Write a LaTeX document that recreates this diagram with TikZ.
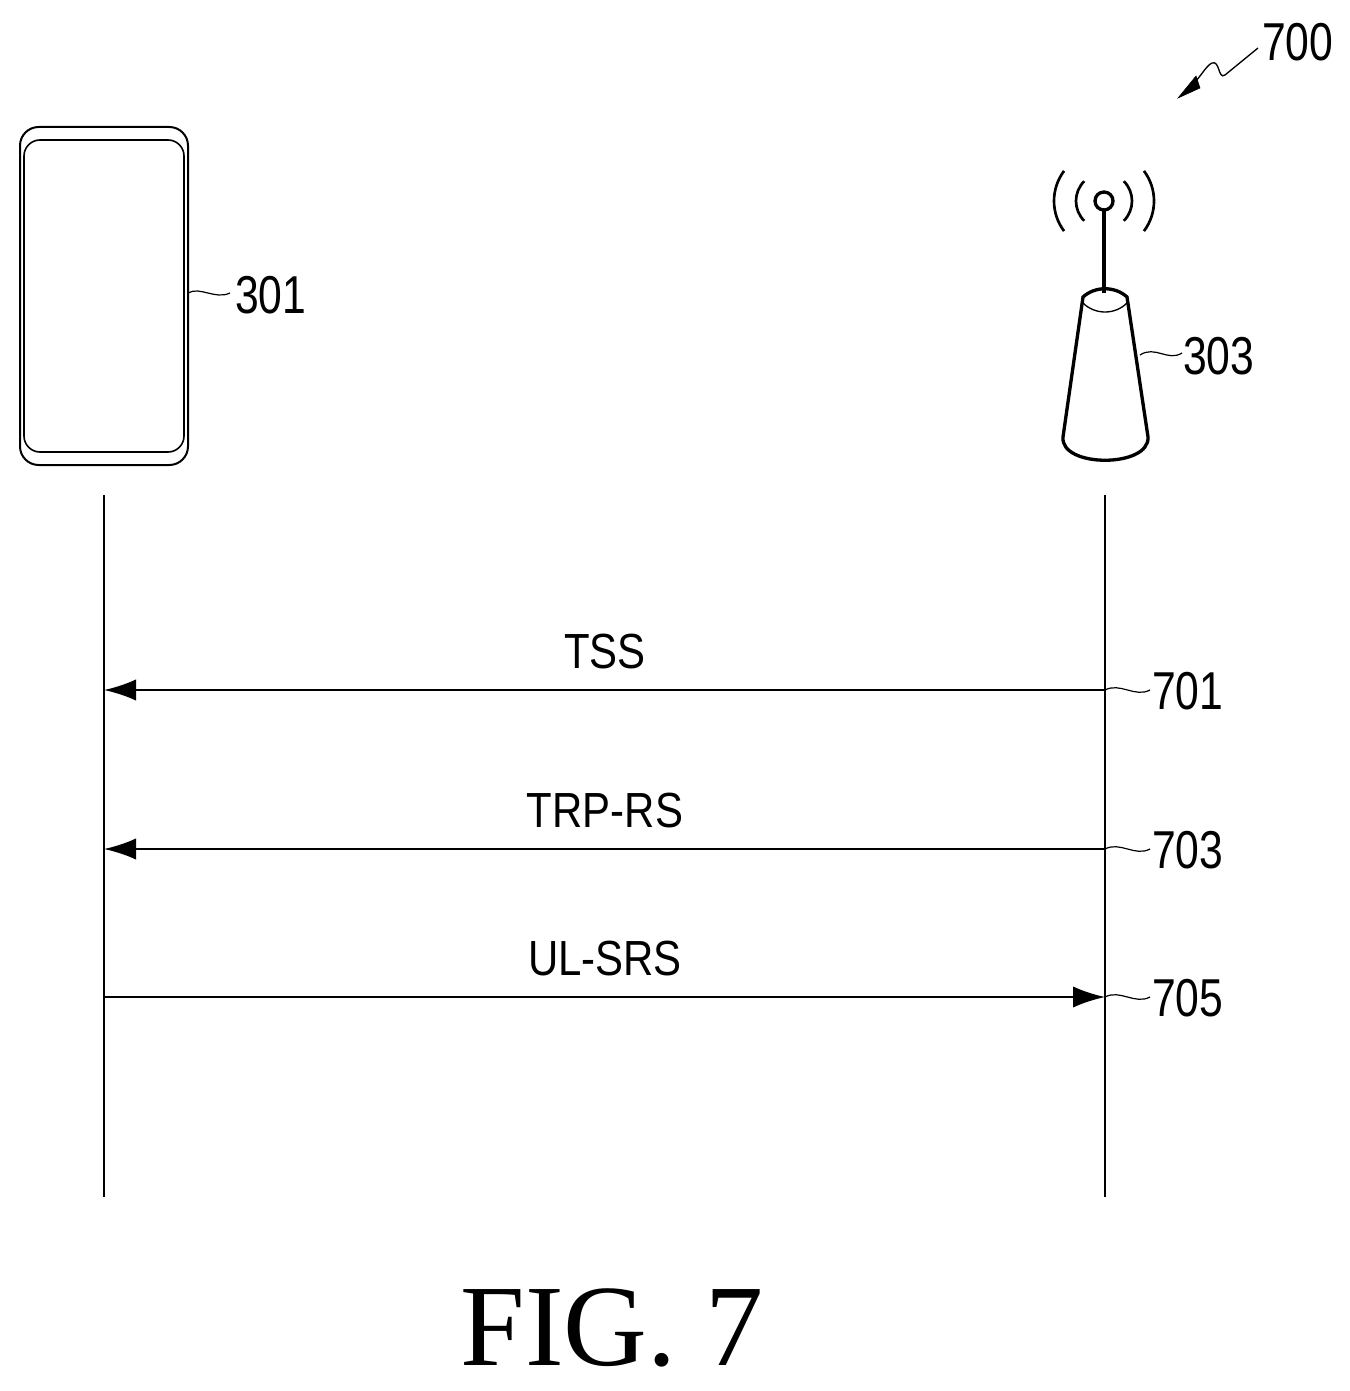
\documentclass[tikz,border=0pt]{standalone}
\usepackage{fontspec}
\setmainfont{Liberation Sans}
\newfontfamily\figfont{Liberation Serif}
\usetikzlibrary{arrows.meta}
\begin{document}
\begin{tikzpicture}[x=0.75pt,y=-0.75pt,
  lab/.style={font=\fontsize{37}{40}\selectfont,xscale=0.85,inner sep=0},
  num/.style={font=\fontsize{40}{44}\selectfont,xscale=0.8,inner sep=0,anchor=west},
  msg/.style={line width=1.6pt,-{Latex[length=24pt,width=16pt]}},
  life/.style={line width=1.6pt},
  sq/.style={line width=0.9pt}]
\useasboundingbox (0,0) rectangle (1349,1391);
% phone
\draw[line width=1.5pt,rounded corners=14] (20,127) rectangle (188,465);
\draw[line width=1.2pt,rounded corners=12] (24,140) rectangle (184,452);
\draw[sq] (188,293) .. controls (200,286) and (215,300) .. (230,293);
\node[num] (n301) at (235,295) {301};
% tower
\draw[line width=2.5pt] (1104,201) circle (9);
\draw[line width=2.5pt] (1104,210) -- (1104,293);
\draw[line width=2.5pt] (1083,297) .. controls (1095,286) and (1115,286) .. (1127,297)
  -- (1148,437) .. controls (1150,468) and (1060,468) .. (1063,437) -- cycle;
\draw[line width=1pt] (1083,303) .. controls (1095,315) and (1115,315) .. (1127,303);
\foreach \r/\a in {28/45,50/37}{
  \draw[line width=2pt] (1104,201) ++(180-\a:\r) arc (180-\a:180+\a:\r);
  \draw[line width=2pt] (1104,201) ++(\a:\r) arc (\a:-\a:\r);
}
\draw[sq] (1140,355) .. controls (1155,345) and (1168,362) .. (1182,353);
\node[num] (n303) at (1183,356) {303};
% 700
\node[num] (n700) at (1262,42) {700};
\draw[line width=1pt] (1258,48) -- (1225,75) .. controls (1218,80) and (1220,60) .. (1212,63)
  .. controls (1205,66) and (1200,80) .. (1182,95);
\draw[fill=black] (1178,98) -- (1196,76) -- (1200,88) -- cycle;
% lifelines
\coordinate (a1) at (104,495); \coordinate (a2) at (104,1197);
\coordinate (b1) at (1105,495); \coordinate (b2) at (1105,1197);
\draw[life] (a1) -- (a2); \draw[life] (b1) -- (b2);
\foreach \y/\t/\n in {690/TSS/701,849/TRP-RS/703,997/UL-SRS/705}{
  \coordinate (l\n) at (104,\y); \coordinate (r\n) at (1105,\y);
  \node[lab] (t\n) at (605,\y-38) {\t};
  \draw[sq] (1105,\y) .. controls (1120,\y-8) and (1135,\y+8) .. (1150,\y);
  \node[num] (m\n) at (1152,\y+1) {\n};
}
\draw[msg] (r701) -- (l701);
\draw[msg] (r703) -- (l703);
\draw[msg] (l705) -- (r705);
\node[font=\figfont\fontsize{87}{90}\selectfont,inner sep=0] (fig) at (612,1328) {FIG. 7};
\end{tikzpicture}
\end{document}
